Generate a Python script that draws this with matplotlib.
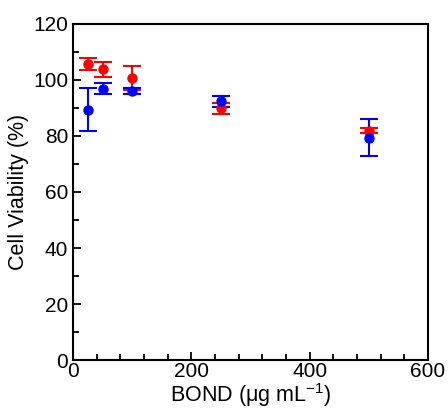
import matplotlib
matplotlib.use("Agg")
import matplotlib.pyplot as plt
from matplotlib.ticker import MultipleLocator

plt.rcParams["font.family"] = ["Liberation Sans", "DejaVu Sans"]

# concentration (ug/mL)
conc = [25, 50, 100, 250, 500]

red_mean = [105.8, 103.8, 100.6, 89.9, 81.8]
red_err = [2.2, 2.6, 4.2, 2.0, 0.9]

blue_mean = [89.4, 96.9, 96.1, 92.4, 79.4]
blue_err = [7.6, 2.0, 1.0, 1.9, 6.5]

fig = plt.figure(figsize=(4.48, 4.12), dpi=100)
ax = fig.add_axes([0.163, 0.126, 0.792, 0.816])

ax.errorbar(conc, red_mean, yerr=red_err, fmt="o", color="#ff0000",
            ms=6.5, elinewidth=1.5, capsize=6.5, capthick=1.5)
ax.errorbar(conc, blue_mean, yerr=blue_err, fmt="o", color="#0000ff",
            ms=6.5, elinewidth=1.5, capsize=6.5, capthick=1.5)

ax.set_xlim(0, 600)
ax.set_ylim(0, 120)
ax.xaxis.set_major_locator(MultipleLocator(200))
ax.xaxis.set_minor_locator(MultipleLocator(40))
ax.yaxis.set_major_locator(MultipleLocator(20))
ax.yaxis.set_minor_locator(MultipleLocator(10))
ax.tick_params(which="both", direction="in", width=1.3, labelsize=15)
ax.tick_params(axis="x", pad=1.5)
ax.tick_params(axis="y", pad=3.5)
ax.tick_params(which="major", length=6)
ax.tick_params(which="minor", length=4)
for s in ax.spines.values():
    s.set_linewidth(1.5)

ax.set_xlabel("BOND (\u03bcg mL$^{\\mathregular{-1}}$)", fontsize=15.5, labelpad=0)
ax.set_ylabel("Cell Viability (%)", fontsize=15.5, labelpad=3)

fig.savefig("out.png", dpi=100)
